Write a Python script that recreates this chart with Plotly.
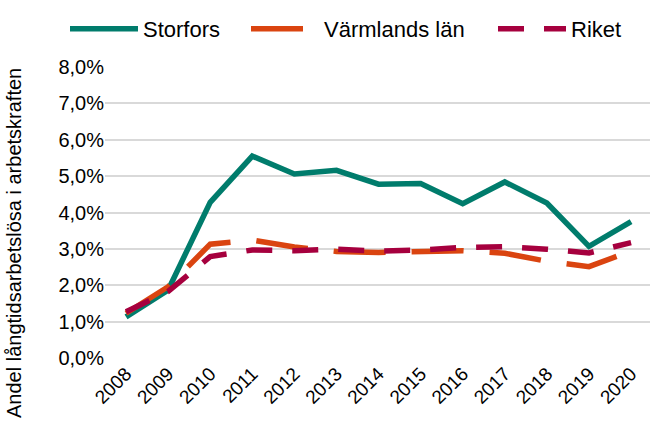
import plotly.graph_objects as go

years = ["2008", "2009", "2010", "2011", "2012", "2013", "2014", "2015", "2016", "2017", "2018", "2019", "2020"]
storfors = [1.13, 1.87, 4.28, 5.55, 5.06, 5.16, 4.78, 4.80, 4.24, 4.84, 4.26, 3.07, 3.75]
varmland = [1.23, 1.96, 3.13, 3.24, 3.05, 2.93, 2.90, 2.92, 2.95, 2.88, 2.66, 2.51, 2.94]
riket = [1.27, 1.83, 2.79, 2.97, 2.95, 2.99, 2.94, 2.97, 3.04, 3.06, 2.99, 2.89, 3.17]
ytick_vals = [0, 1, 2, 3, 4, 5, 6, 7, 8]
ytick_text = ["0,0%", "1,0%", "2,0%", "3,0%", "4,0%", "5,0%", "6,0%", "7,0%", "8,0%"]
y_title = "Andel långtidsarbetslösa i arbetskraften"

fig = go.Figure()
fig.add_trace(go.Scatter(x=years, y=storfors, name="Storfors", mode="lines", legend="legend",
                         line=dict(color="#007c6c", width=5.5)))
fig.add_trace(go.Scatter(x=years, y=varmland, name="Värmlands län", mode="lines", legend="legend2",
                         line=dict(color="#da4410", width=5.5, dash="52px,26px")))
fig.add_trace(go.Scatter(x=years, y=riket, name="Riket", mode="lines", legend="legend3",
                         line=dict(color="#a6003e", width=5.5, dash="26px,20px")))

L = 105.0
W = 650 - L
T = 67.0
H = 358 - T


def lx(px):
    return (px - L) / W


def ly(py):
    return (358 - py) / H


leg_common = dict(orientation="h", y=1 - 8 / 421, yanchor="top", yref="container",
                  font=dict(size=22), bgcolor="rgba(0,0,0,0)", itemwidth=68)

fig.update_layout(
    width=650, height=421,
    margin=dict(l=105, r=0, t=67, b=63),
    paper_bgcolor="white", plot_bgcolor="white",
    font=dict(family="Liberation Sans, Arial, sans-serif", color="black"),
    legend=dict(x=lx(65), xanchor="left", **leg_common),
    legend2=dict(x=lx(246), xanchor="left", **leg_common),
    legend3=dict(x=lx(493), xanchor="left", **leg_common),
    showlegend=True,
)
fig.add_annotation(text=y_title, xref="paper", yref="paper", x=lx(14), y=ly(243),
                   xanchor="center", yanchor="middle", textangle=-90, showarrow=False,
                   font=dict(size=20, color="black"))
fig.update_xaxes(type="category", range=[-0.5, 12.45], showgrid=False, showline=False,
                 ticks="", tickangle=-45, tickfont=dict(size=19), zeroline=False,
                 automargin=False)
fig.update_yaxes(range=[0, 8], tickvals=ytick_vals, ticktext=ytick_text,
                 showgrid=True, gridcolor="#d9d9d9", gridwidth=1.5, zeroline=False,
                 showline=False, ticks="", tickfont=dict(size=20), automargin=False)

fig.write_html("out.html", config={"displayModeBar": False},
               post_script="document.body.style.margin='0px';")
